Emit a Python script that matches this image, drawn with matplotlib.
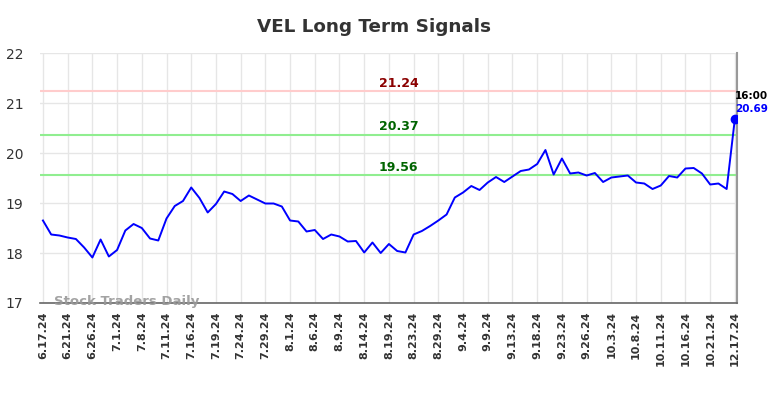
# VEL long term signals chart

import numpy as np
import matplotlib
matplotlib.use("Agg")
import matplotlib.pyplot as plt

# closing prices, one per trading session shown
prices = [18.65, 18.37, 18.35, 18.31, 18.28, 18.11, 17.91, 18.27, 17.93, 18.06,
          18.45, 18.58, 18.50, 18.29, 18.25, 18.69, 18.94, 19.04, 19.31, 19.10,
          18.81, 18.98, 19.23, 19.18, 19.04, 19.15, 19.07, 18.99, 18.99, 18.93,
          18.65, 18.63, 18.43, 18.46, 18.28, 18.37, 18.33, 18.23, 18.24, 18.01,
          18.21, 18.00, 18.18, 18.04, 18.01, 18.37, 18.44, 18.54, 18.65, 18.77,
          19.11, 19.21, 19.34, 19.26, 19.41, 19.52, 19.42, 19.53, 19.64, 19.67,
          19.78, 20.06, 19.57, 19.89, 19.59, 19.61, 19.55, 19.60, 19.42, 19.51,
          19.53, 19.55, 19.41, 19.39, 19.28, 19.35, 19.54, 19.51, 19.69, 19.70,
          19.59, 19.37, 19.39, 19.28, 20.69]

tick_labels = ['6.17.24', '6.21.24', '6.26.24', '7.1.24', '7.8.24', '7.11.24',
               '7.16.24', '7.19.24', '7.24.24', '7.29.24', '8.1.24', '8.6.24',
               '8.9.24', '8.14.24', '8.19.24', '8.23.24', '8.29.24', '9.4.24',
               '9.9.24', '9.13.24', '9.18.24', '9.23.24', '9.26.24', '10.3.24',
               '10.8.24', '10.11.24', '10.16.24', '10.21.24', '12.17.24']
tick_pos = list(range(0, 82, 3)) + [84]

resistance = 21.24
upper_support = 20.37
lower_support = 19.56
last_time = "16:00"

x = np.arange(len(prices))

fig = plt.figure(figsize=(7.84, 3.98), dpi=100)
ax = fig.add_axes([0.051, 0.2387, 0.889, 0.6281])

ax.set_xlim(-0.36, len(prices) - 1 + 0.25)
ax.set_ylim(17, 22)

ax.set_xticks(tick_pos)
ax.set_xticklabels(tick_labels, rotation=90, fontsize=8, fontweight='bold', color='#333333')
ax.set_yticks([17, 18, 19, 20, 21, 22])
ax.tick_params(axis='y', length=0, labelsize=10, colors='#333333', pad=12)
ax.tick_params(axis='x', length=0, pad=6)
ax.grid(True, color='#e6e6e6', linewidth=1)
ax.set_axisbelow(True)

for s in ['left', 'top']:
    ax.spines[s].set_visible(False)
ax.spines['bottom'].set_color('#666666')
ax.spines['bottom'].set_linewidth(1.2)
ax.spines['right'].set_color('#999999')
ax.spines['right'].set_linewidth(1.5)

ax.axhline(resistance, color='#ffcccc', linewidth=1.5, zorder=1)
ax.axhline(upper_support, color='#90ee90', linewidth=1.5, zorder=1)
ax.axhline(lower_support, color='#90ee90', linewidth=1.5, zorder=1)

mid = 43.2
for lvl, col in [(resistance, '#8b0000'), (upper_support, '#006400'), (lower_support, '#006400')]:
    ax.text(mid, lvl + 0.03, f"{lvl:.2f}", color=col, fontsize=9,
            fontweight='bold', ha='center', va='bottom')

ax.plot(x, prices, color='#0000ff', linewidth=1.4, zorder=3)
ax.plot(x[-1], prices[-1], 'o', color='#0000ff', markersize=6, zorder=4)

ax.annotate(last_time, (x[-1], prices[-1]), xytext=(0, 12.5), textcoords='offset points',
            fontsize=7.5, fontweight='bold', color='black', ha='left', va='bottom')
ax.annotate(f"{prices[-1]:.2f}", (x[-1], prices[-1]), xytext=(0, 3.5), textcoords='offset points',
            fontsize=7.5, fontweight='bold', color='#0000ff', ha='left', va='bottom')

ax.text(1.3, 17.02, "Stock Traders Daily", fontsize=9.5, fontweight='bold',
        color='#999999', alpha=0.9, ha='left', va='center', zorder=5)

fig.suptitle("VEL Long Term Signals", fontsize=13.2, fontweight='bold', color='#333333',
             x=0.477, y=0.955)

fig.savefig("out.png", dpi=100)
